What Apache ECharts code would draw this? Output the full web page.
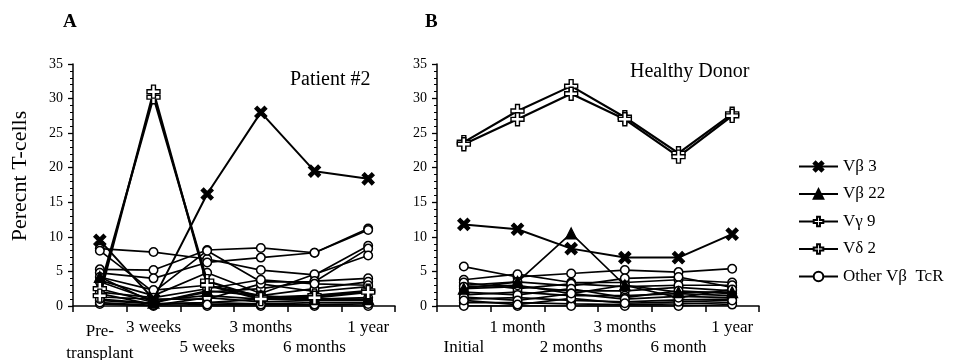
<!DOCTYPE html>
<html>
<head>
<meta charset="utf-8">
<script src="https://cdn.jsdelivr.net/npm/echarts@6/dist/echarts.min.js"></script>
<style>
html,body{margin:0;padding:0;background:#fff;}
#chart{width:954px;height:360px;}
</style>
</head>
<body>
<div id="chart"></div>
<script>
// ---------- data ----------
var categoriesA = ['Pre-\ntransplant', '3 weeks', '5 weeks', '3 months', '6 months', '1 year'];
var categoriesB = ['Initial', '1 month', '2 months', '3 months', '6 month', '1 year'];
var yTicks = [0, 5, 10, 15, 20, 25, 30, 35];

// Panel A: Patient #2
var vb3A  = [9.5, 1.0, 16.2, 28.0, 19.5, 18.4];
var vb22A = [4.2, 0.5, 2.2, 1.5, 1.0, 1.0];
var vg9A  = [2.5, 30.2, 3.6, 1.2, 1.5, 2.2];
var vd2A  = [1.5, 31.0, 3.0, 1.0, 1.2, 2.0];
var otherA = [
  [8.3, 7.8, 6.8, 5.2, 4.5, 8.7],
  [5.3, 5.2, 8.1, 8.4, 7.7, 11.2],
  [4.8, 4.0, 6.3, 7.0, 7.7, 11.0],
  [8.0, 2.0, 8.0, 3.5, 3.5, 8.3],
  [3.7, 1.5, 4.8, 1.8, 4.6, 7.3],
  [2.5, 0.5, 2.0, 2.5, 3.6, 4.0],
  [1.3, 1.0, 1.0, 3.2, 2.1, 2.8],
  [0.8, 0.3, 0.5, 1.0, 1.0, 1.2],
  [0.3, 0.0, 0.0, 0.0, 0.0, 0.0],
  [4.2, 2.3, 3.0, 1.5, 2.5, 3.5],
  [3.5, 0.8, 1.5, 1.0, 1.5, 2.0],
  [1.8, 0.2, 0.5, 0.3, 0.5, 0.5],
  [2.0, 1.2, 2.5, 3.8, 3.2, 3.0],
  [0.5, 0.1, 1.2, 0.6, 0.8, 0.8],
  [1.0, 0.4, 0.2, 0.2, 0.2, 0.3]
];

// Panel B: Healthy Donor
var vb3B  = [11.8, 11.1, 8.3, 7.0, 7.0, 10.4];
var vb22B = [2.5, 3.5, 10.5, 3.0, 2.0, 2.0];
var vg9B  = [23.7, 28.2, 31.8, 27.3, 22.1, 27.8];
var vd2B  = [23.4, 27.0, 30.7, 27.0, 21.6, 27.5];
var otherB = [
  [5.7, 4.2, 4.7, 5.2, 4.9, 5.4],
  [3.8, 4.6, 3.4, 3.4, 3.8, 3.4],
  [3.0, 3.5, 2.9, 4.0, 4.2, 2.7],
  [2.5, 2.8, 2.2, 2.2, 2.7, 2.2],
  [1.6, 2.0, 1.5, 1.5, 1.8, 1.5],
  [1.0, 1.2, 0.8, 0.6, 0.9, 1.0],
  [0.5, 0.5, 0.3, 0.2, 0.3, 0.5],
  [0.0, 0.0, 0.0, 0.0, 0.0, 0.2],
  [3.4, 2.5, 3.2, 2.8, 3.0, 3.0],
  [2.0, 1.6, 2.5, 1.2, 2.2, 1.8],
  [1.3, 0.8, 1.8, 1.0, 1.4, 1.2],
  [0.8, 0.2, 1.1, 0.4, 0.6, 0.8],
  [2.8, 3.0, 1.8, 3.0, 1.2, 2.4]
];

var names = { vb3: 'V\u03b2 3', vb22: 'V\u03b2 22', vg9: 'V\u03b3 9', vd2: 'V\u03b4 2', other: 'Other V\u03b2  TcR' };

// ---------- styles ----------
var FONT = '"Liberation Serif", "DejaVu Serif", serif';
var X_SYM = 'path://M2,0 L5,3 L8,0 L10,2 L7,5 L10,8 L8,10 L5,7 L2,10 L0,8 L3,5 L0,2 Z';
var PLUS_SYM = 'path://M3.5,0 L6.5,0 L6.5,3.5 L10,3.5 L10,6.5 L6.5,6.5 L6.5,10 L3.5,10 L3.5,6.5 L0,6.5 L0,3.5 L3.5,3.5 Z';

function mkSeries(name, data, gi, kind) {
  var s = {
    name: name, type: 'line', data: data,
    xAxisIndex: gi, yAxisIndex: gi,
    lineStyle: { color: '#000', width: 1.7 },
    itemStyle: { color: '#000', borderColor: '#000', borderWidth: 1.2 },
    emphasis: { disabled: true },
    z: 2
  };
  if (kind === 'other') {
    s.symbol = 'circle'; s.symbolSize = 8.5;
    s.itemStyle = { color: '#fff', borderColor: '#000', borderWidth: 1.5 };
  } else if (kind === 'x') {
    s.symbol = X_SYM; s.symbolSize = 12;
    s.lineStyle.width = 2; s.z = 4;
  } else if (kind === 'tri') {
    s.symbol = 'triangle'; s.symbolSize = 11; s.z = 3;
  } else if (kind === 'plus') {
    s.symbol = PLUS_SYM; s.symbolSize = 13;
    s.lineStyle.width = 2.2; s.z = 5;
    s.itemStyle = { color: '#fff', borderColor: '#000', borderWidth: 1.4 };
  }
  return s;
}

var series = [];
otherA.forEach(function (d) { series.push(mkSeries(names.other, d, 0, 'other')); });
series.push(mkSeries(names.vb22, vb22A, 0, 'tri'));
series.push(mkSeries(names.vb3, vb3A, 0, 'x'));
series.push(mkSeries(names.vg9, vg9A, 0, 'plus'));
series.push(mkSeries(names.vd2, vd2A, 0, 'plus'));
otherB.forEach(function (d) { series.push(mkSeries(names.other, d, 1, 'other')); });
series.push(mkSeries(names.vb22, vb22B, 1, 'tri'));
series.push(mkSeries(names.vb3, vb3B, 1, 'x'));
series.push(mkSeries(names.vg9, vg9B, 1, 'plus'));
series.push(mkSeries(names.vd2, vd2B, 1, 'plus'));

function xLabelFmt(value, index) {
  if (value.indexOf('\n') >= 0) {
    return value.split('\n').map(function (t) { return '{pre|' + t + '}'; }).join('\n');
  }
  return index % 2 === 0 ? '\n' + value : value;
}

function mkX(gi, cats) {
  return {
    type: 'category', gridIndex: gi, data: cats, boundaryGap: true,
    axisLine: { lineStyle: { color: '#000', width: 1.5 } },
    axisTick: { show: true, inside: false, length: 6, interval: 0, lineStyle: { color: '#000', width: 1.5 } },
    axisLabel: {
      interval: 0, margin: 12, color: '#000', fontFamily: FONT, fontSize: 17, lineHeight: 20,
      formatter: xLabelFmt,
      rich: { pre: { fontFamily: FONT, fontSize: 17, lineHeight: 22, padding: [5, 0, 0, 0], color: '#000' } }
    },
    splitLine: { show: false }
  };
}

function mkY(gi) {
  return {
    type: 'value', gridIndex: gi, min: yTicks[0], max: yTicks[yTicks.length - 1], interval: 5,
    axisLine: { show: true, lineStyle: { color: '#000', width: 1.5 } },
    axisTick: { show: true, inside: false, length: 5, lineStyle: { color: '#000', width: 1.3 } },
    minorTick: { show: true, splitNumber: 5, length: 3, lineStyle: { color: '#000', width: 1 } },
    axisLabel: { margin: 10, color: '#000', fontFamily: FONT, fontSize: 14 },
    splitLine: { show: false }
  };
}

var chart = echarts.init(document.getElementById('chart'), null, { renderer: 'canvas' });
chart.setOption({
  animation: false,
  backgroundColor: '#fff',
  grid: [
    { left: 73, top: 64, width: 322, height: 242, containLabel: false, outerBoundsMode: 'none' },
    { left: 437, top: 64, width: 322, height: 242, containLabel: false, outerBoundsMode: 'none' }
  ],
  xAxis: [mkX(0, categoriesA), mkX(1, categoriesB)],
  yAxis: [mkY(0), mkY(1)],
  legend: {
    orient: 'vertical', left: 793, top: 153,
    data: [names.vb3, names.vb22, names.vg9, names.vd2, names.other],
    itemWidth: 39, itemHeight: 12, itemGap: 10.5,
    textStyle: { fontFamily: FONT, fontSize: 17, color: '#000' },
    selectedMode: false
  },
  graphic: [
    { type: 'text', left: 63, top: 13, style: { text: 'A', font: 'bold 19px ' + FONT, fill: '#000' } },
    { type: 'text', left: 425, top: 13, style: { text: 'B', font: 'bold 19px ' + FONT, fill: '#000' } },
    { type: 'text', left: 290, top: 70, style: { text: 'Patient #2', font: '20px ' + FONT, fill: '#000' } },
    { type: 'text', left: 630, top: 62, style: { text: 'Healthy Donor', font: '20px ' + FONT, fill: '#000' } },
    { type: 'text', x: 20, y: 176, rotation: Math.PI / 2,
      style: { text: 'Perecnt T-cells', font: '22px ' + FONT, fill: '#000', align: 'center', verticalAlign: 'middle' } }
  ],
  series: series
});
</script>
</body>
</html>
